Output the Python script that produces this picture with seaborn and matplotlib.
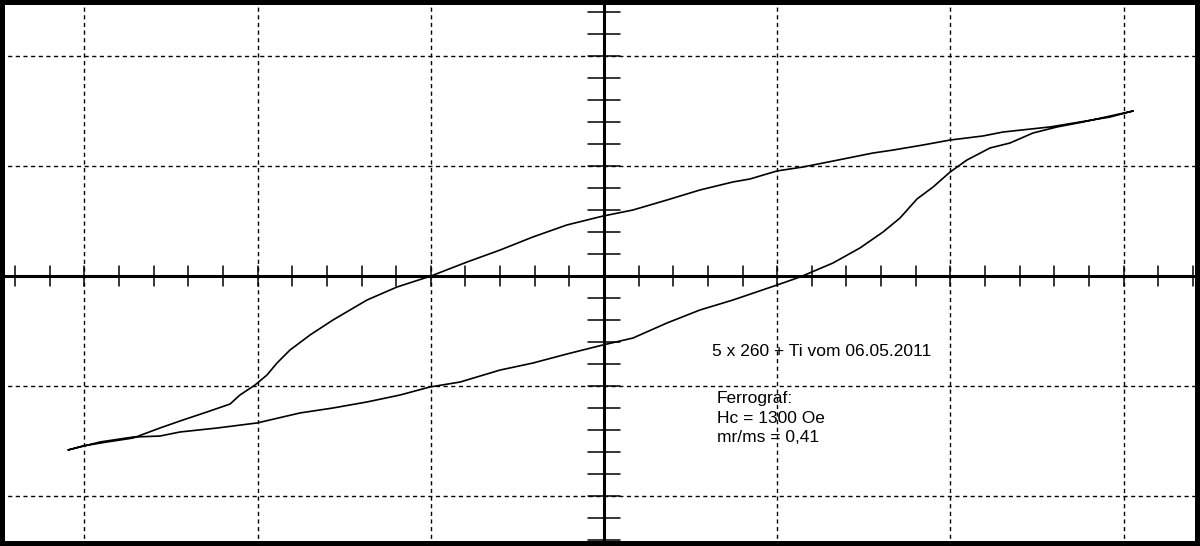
import matplotlib
matplotlib.use("Agg")
import matplotlib.pyplot as plt
import numpy as np
import pandas as pd
import seaborn as sns

# hysteresis loop (units = grid divisions)
upper_x = [3.054, 2.921, 2.748, 2.575, 2.304, 2.188, 1.998, 1.842, 1.669, 1.553,
           1.322, 1.149, 0.999, 0.843, 0.745, 0.554, 0.364, 0.167, -0.006, -0.214,
           -0.410, -0.600, -0.791, -0.999, -1.195, -1.368, -1.565, -1.697, -1.813,
           -1.888, -1.946, -2.015, -2.102, -2.159, -2.292, -2.431, -2.564, -2.719,
           -2.870, -3.008, -3.095]
upper_y = [1.500, 1.445, 1.400, 1.355, 1.309, 1.273, 1.236, 1.191, 1.145, 1.118,
           1.045, 0.991, 0.955, 0.882, 0.855, 0.782, 0.691, 0.600, 0.545, 0.464,
           0.355, 0.236, 0.127, 0.000, -0.100, -0.218, -0.400, -0.536, -0.673,
           -0.791, -0.900, -0.991, -1.082, -1.164, -1.236, -1.309, -1.382, -1.473,
           -1.509, -1.545, -1.582]

lower_x = [-3.095, -2.910, -2.719, -2.564, -2.448, -2.234, -2.003, -1.755, -1.565,
           -1.368, -1.178, -1.005, -0.831, -0.600, -0.410, -0.214, -0.006, 0.167,
           0.364, 0.554, 0.745, 0.999, 1.132, 1.322, 1.478, 1.611, 1.709, 1.807,
           1.900, 1.998, 2.096, 2.229, 2.344, 2.477, 2.616, 2.766, 3.054]
lower_y = [-1.582, -1.509, -1.464, -1.455, -1.418, -1.382, -1.336, -1.245, -1.200,
           -1.145, -1.082, -1.009, -0.964, -0.855, -0.791, -0.709, -0.627, -0.564,
           -0.427, -0.309, -0.218, -0.082, -0.009, 0.118, 0.255, 0.400, 0.527,
           0.700, 0.809, 0.945, 1.055, 1.164, 1.209, 1.300, 1.355, 1.400, 1.500]

grid_x = [-3, -2, -1, 1, 2, 3]
grid_y = [-2, -1, 1, 2]
title_text = "5 x 260 + Ti vom 06.05.2011"
info_lines = ["Ferrograf:", "Hc = 1300 Oe", "mr/ms = 0,41"]

sns.set_style("white")
plt.rcParams['font.family'] = ['Liberation Sans', 'DejaVu Sans']

fig = plt.figure(figsize=(12, 5.46), dpi=100)
ax = fig.add_axes([0, 0, 1, 1])
ax.set_xlim(-604 / 173.2, 596 / 173.2)
ax.set_ylim(-270 / 110, 276 / 110)

# dotted grid
for gx in grid_x:
    ax.axvline(gx, color='black', lw=1.0, ls=(0, (3, 2.5)), zorder=1)
for gy in grid_y:
    ax.axhline(gy, color='black', lw=1.0, ls=(0, (3, 2.5)), zorder=1)

# center cross with ticks
ax.axhline(0, color='black', lw=2.2, zorder=2)
ax.axvline(0, color='black', lw=2.2, zorder=2)
for t in np.arange(-17, 18) * 0.2:
    ax.plot([t, t], [-0.091, 0.091], color='black', lw=1.1, zorder=2)
for t in np.arange(-12, 13) * 0.2:
    ax.plot([-0.095, 0.095], [t, t], color='black', lw=1.1, zorder=2)

loop = pd.DataFrame({
    'x': upper_x + lower_x[1:],
    'y': upper_y + lower_y[1:],
})
sns.lineplot(data=loop, x='x', y='y', sort=False, estimator=None,
             color='black', lw=1.2, ax=ax, zorder=3)

ax.text(0.624, -0.69, title_text, fontsize=12.5, va='center', ha='left',
        color='black')
for i, line in enumerate(info_lines):
    ax.text(0.652, -1.118 - i * 0.177, line, fontsize=12.5, va='center',
            ha='left', color='black')

ax.set_xticks([])
ax.set_yticks([])
ax.set_xlabel("")
ax.set_ylabel("")
for s in ax.spines.values():
    s.set_visible(True)
    s.set_color('black')
    s.set_linewidth(7.2)

fig.savefig("out.png", dpi=100)
